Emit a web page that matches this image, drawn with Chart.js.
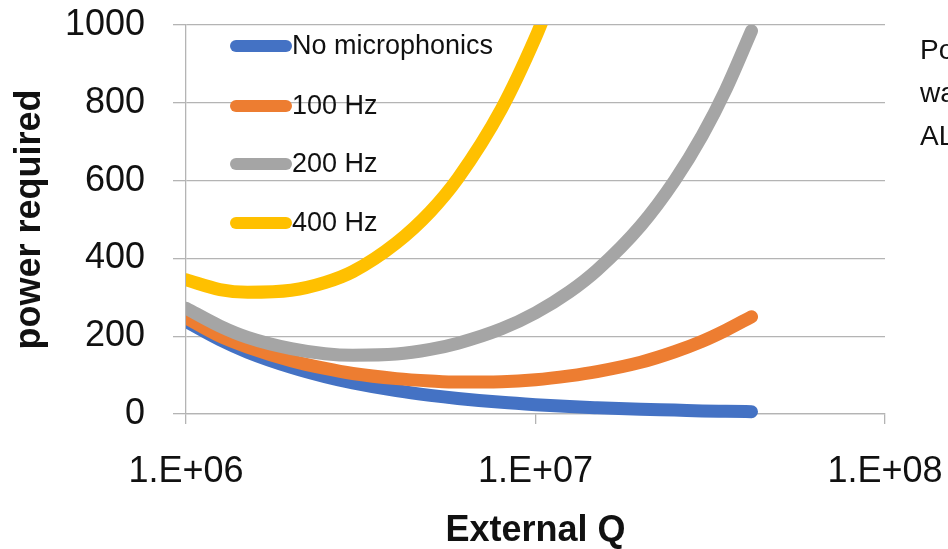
<!DOCTYPE html>
<html>
<head>
<meta charset="utf-8">
<script src="https://cdn.jsdelivr.net/npm/chart.js@4"></script>
<style>
  html, body { margin: 0; padding: 0; background: #fff; overflow: hidden; }
  #wrap { position: relative; width: 948px; height: 549px; }
  #side {
    position: absolute; left: 920px; top: 28px;
    font-family: 'Liberation Sans', Arial, sans-serif; font-size: 28px;
    line-height: 43px; color: #111; white-space: pre;
  }
</style>
</head>
<body>
<div id="wrap">
  <canvas id="myChart" width="948" height="549"></canvas>
  <div id="side">Po
wa
AL</div>
</div>
<script>
// External Q values (x) and power required for each microphonics level
const qValues = [1.0e6, 1.25e6, 1.5e6, 2e6, 2.5e6, 3e6, 4e6, 5e6, 6e6, 8e6, 1e7, 1.25e7, 1.5e7, 2e7, 2.5e7, 3e7, 3.5e7, 4.15e7];
const noMicro = [238, 191, 159, 120, 96, 80, 60, 48, 40, 30, 24, 19, 16, 12, 10, 8, 7, 6];
const hz100 = [247, 200, 172, 137, 117, 104, 91, 85, 82, 83, 88, 98, 109, 133, 160, 187, 215, 250];
const hz200 = [272, 226, 197, 168, 155, 151, 154, 166, 182, 219, 260, 314, 370, 484, 600, 716, 833, 985];

// 400 Hz curve leaves the plot at the top
const qValues400 = [1.0e6, 1.25e6, 1.5e6, 2e6, 2.5e6, 3e6, 4e6, 5e6, 6e6, 8e6, 1e7, 1.1e7];
const hz400 = [345, 320, 313, 318, 338, 366, 440, 520, 606, 785, 968, 1060];

const seriesNames = ['No microphonics', '100 Hz', '200 Hz', '400 Hz'];
const seriesColors = ['#4472C4', '#ED7D31', '#A5A5A5', '#FFC000'];

const xTickValues = [1e6, 1e7, 1e8];
const xTickLabels = ['1.E+06', '1.E+07', '1.E+08'];

const toPoints = (xs, ys) => xs.map((x, i) => ({ x: x, y: ys[i] }));
const seriesData = [
    toPoints(qValues, noMicro),
    toPoints(qValues, hz100),
    toPoints(qValues, hz200),
    toPoints(qValues400, hz400)
];

const gridColor = '#b4b4b4';
const fontFamily = "'Liberation Sans', Arial, sans-serif";

// Legend drawn inside the plot, with thick line markers
const insideLegend = {
    id: 'insideLegend',
    afterDraw(chart) {
        const ctx = chart.ctx;
        const rows = [46, 106, 164, 223];
        ctx.save();
        ctx.font = '27px ' + fontFamily;
        ctx.textBaseline = 'middle';
        ctx.textAlign = 'left';
        seriesNames.forEach((name, i) => {
            ctx.strokeStyle = seriesColors[i];
            ctx.lineWidth = 12;
            ctx.lineCap = 'round';
            ctx.beginPath();
            ctx.moveTo(236, rows[i]);
            ctx.lineTo(286, rows[i]);
            ctx.stroke();
            ctx.fillStyle = '#111';
            ctx.fillText(name, 292, rows[i] + 1);
        });
        ctx.restore();
    }
};

const ctx = document.getElementById('myChart').getContext('2d');

new Chart(ctx, {
    type: 'line',
    data: {
        datasets: seriesData.map((pts, i) => ({
            label: seriesNames[i],
            data: pts,
            borderColor: seriesColors[i],
            backgroundColor: seriesColors[i],
            borderWidth: 13,
            borderCapStyle: 'round',
            pointRadius: 0,
            cubicInterpolationMode: 'monotone',
            order: 3 - i, // later series on top, like the original
            clip: { left: 0, top: 0, right: 10, bottom: 10 }
        }))
    },
    options: {
        responsive: false,
        animation: false,
        layout: { padding: { left: 0, top: 25, right: 63, bottom: 0 } },
        plugins: {
            legend: { display: false },
            tooltip: { enabled: false }
        },
        scales: {
            x: {
                type: 'logarithmic',
                min: 1e6,
                max: 1e8,
                afterBuildTicks: s => { s.ticks = xTickValues.map(v => ({ value: v })); },
                afterFit: s => {
                    s.height = 135;
                    s.paddingLeft = 0;
                    s.paddingRight = 0;
                },
                ticks: {
                    callback: (v, i) => xTickLabels[i],
                    font: { family: fontFamily, size: 36 },
                    color: '#111',
                    padding: 26,
                    maxRotation: 0,
                    autoSkip: false
                },
                grid: { drawOnChartArea: false, tickLength: 10, color: gridColor, lineWidth: 1.3 },
                border: { display: true, color: gridColor, width: 1.3 },
                title: {
                    display: true,
                    text: 'External Q',
                    font: { family: fontFamily, size: 36, weight: 'bold' },
                    color: '#111',
                    padding: { top: 0, bottom: -4 }
                }
            },
            y: {
                min: 0,
                max: 1000,
                afterFit: s => {
                    s.width = 186;
                    s.paddingTop = 0;
                    s.paddingBottom = 0;
                },
                ticks: {
                    stepSize: 200,
                    callback: v => String(v),
                    font: { family: fontFamily, size: 36 },
                    color: '#111',
                    padding: 28
                },
                grid: { color: gridColor, tickLength: 13, lineWidth: 1.3 },
                border: { display: true, color: gridColor, width: 1.3 },
                title: {
                    display: true,
                    text: 'power required',
                    font: { family: fontFamily, size: 36, weight: 'bold' },
                    color: '#111',
                    padding: { top: 8, bottom: 0 }
                }
            }
        }
    },
    plugins: [insideLegend]
});
</script>
</body>
</html>
